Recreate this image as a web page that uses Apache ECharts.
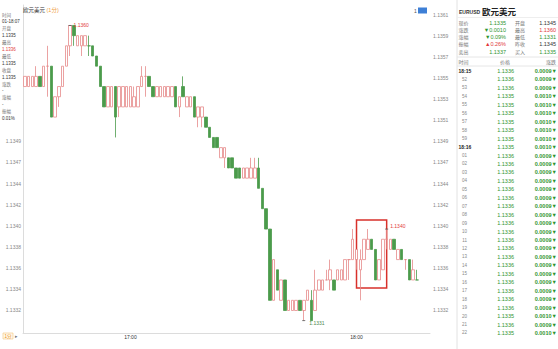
<!DOCTYPE html>
<html><head><meta charset="utf-8">
<script src="https://cdn.jsdelivr.net/npm/echarts@6/dist/echarts.min.js"></script>
<style>html,body{margin:0;padding:0;background:#fff}#c{width:558px;height:349px}</style>
</head><body><div id="c"></div>
<script>
// ---- data ----
const categories = [
'16:32','16:33','16:34','16:35','16:36','16:37','16:38','16:39','16:40','16:41','16:42','16:43','16:44','16:45','16:46','16:47','16:48','16:49','16:50','16:51','16:52','16:53','16:54','16:55','16:56','16:57','16:58','16:59',
'17:00','17:01','17:02','17:03','17:04','17:05','17:06','17:07','17:08','17:09','17:10','17:11','17:12','17:13','17:14','17:15','17:16','17:17','17:18','17:19','17:20','17:21','17:22','17:23','17:24','17:25','17:26','17:27','17:28','17:29',
'17:30','17:31','17:32','17:33','17:34','17:35','17:36','17:37','17:38','17:39','17:40','17:41','17:42','17:43','17:44','17:45','17:46','17:47','17:48','17:49','17:50','17:51','17:52','17:53','17:54','17:55','17:56','17:57','17:58','17:59',
'18:00','18:01','18:02','18:03','18:04','18:05','18:06','18:07','18:08','18:09','18:10','18:11','18:12','18:13','18:14','18:15','18:16','18:17','18:18','18:19'];
const opens = [1.1354,1.1354,1.1354,1.1354,1.1355,1.1354,1.1356,1.1356,1.1351,1.1353,1.1354,1.1356,1.1358,1.1360,1.1358,1.1358,1.1358,1.1358,1.1358,1.1357,1.1356,1.1354,1.1352,1.1352,1.1354,1.1352,1.1352,1.1352,1.1352,1.1352,1.1352,1.1354,1.1355,1.1355,1.1354,1.1353,1.1353,1.1353,1.1353,1.1353,1.1354,1.1352,1.1354,1.1352,1.1352,1.1353,1.1351,1.1351,1.1351,1.1350,1.1349,1.1349,1.1347,1.1347,1.1347,1.1347,1.1346,1.1346,1.1345,1.1345,1.1345,1.1345,1.1346,1.1344,1.1342,1.1340,1.1333,1.1336,1.1333,1.1335,1.1332,1.1332,1.1332,1.1333,1.1332,1.1333,1.1333,1.1332,1.1334,1.1334,1.1335,1.1335,1.1335,1.1335,1.1335,1.1335,1.1337,1.1337,1.1337,1.1336,1.1337,1.1338,1.1339,1.1338,1.1335,1.1336,1.1339,1.1338,1.1339,1.1337,1.1338,1.1337,1.1337,1.1335,1.1335];
const closes = [1.1355,1.1355,1.1355,1.1355,1.1354,1.1356,1.1356,1.1351,1.1353,1.1354,1.1356,1.1358,1.1360,1.1359,1.1359,1.1359,1.1359,1.1358,1.1357,1.1356,1.1354,1.1352,1.1354,1.1354,1.1351,1.1354,1.1354,1.1354,1.1354,1.1353,1.1354,1.1355,1.1355,1.1354,1.1353,1.1354,1.1354,1.1354,1.1354,1.1354,1.1352,1.1353,1.1353,1.1353,1.1353,1.1351,1.1352,1.1352,1.1350,1.1349,1.1348,1.1348,1.1348,1.1348,1.1346,1.1346,1.1345,1.1345,1.1346,1.1346,1.1346,1.1346,1.1344,1.1342,1.1340,1.1333,1.1337,1.1334,1.1335,1.1332,1.1333,1.1333,1.1333,1.1332,1.1333,1.1334,1.1331,1.1334,1.1335,1.1335,1.1335,1.1336,1.1334,1.1336,1.1336,1.1337,1.1337,1.1339,1.1338,1.1337,1.1339,1.1339,1.1338,1.1335,1.1337,1.1339,1.1339,1.1339,1.1338,1.1338,1.1337,1.1337,1.1335,1.1336,1.1335];
const lows = [1.1354,1.1354,1.1354,1.1354,1.1354,1.1354,1.1353,1.1351,1.1351,1.1352,1.1354,1.1356,1.1357,1.1358,1.1358,1.1357,1.1358,1.1357,1.1357,1.1356,1.1354,1.1352,1.1352,1.1352,1.1349,1.1351,1.1352,1.1352,1.1352,1.1352,1.1352,1.1354,1.1353,1.1354,1.1353,1.1353,1.1353,1.1353,1.1353,1.1353,1.1352,1.1351,1.1353,1.1352,1.1352,1.1351,1.1350,1.1350,1.1350,1.1349,1.1348,1.1348,1.1347,1.1346,1.1346,1.1346,1.1345,1.1345,1.1345,1.1345,1.1345,1.1345,1.1344,1.1342,1.1340,1.1333,1.1333,1.1334,1.1333,1.1332,1.1332,1.1332,1.1332,1.1332,1.1331,1.1333,1.1331,1.1332,1.1334,1.1334,1.1335,1.1334,1.1334,1.1335,1.1335,1.1335,1.1335,1.1337,1.1336,1.1333,1.1337,1.1338,1.1338,1.1335,1.1335,1.1336,1.1338,1.1338,1.1338,1.1337,1.1337,1.1336,1.1335,1.1335,1.1335];
const highs = [1.1355,1.1355,1.1355,1.1356,1.1355,1.1356,1.1358,1.1356,1.1353,1.1354,1.1356,1.1358,1.1360,1.1360,1.1359,1.1359,1.1359,1.1359,1.1358,1.1357,1.1356,1.1354,1.1354,1.1354,1.1354,1.1354,1.1354,1.1354,1.1354,1.1354,1.1354,1.1356,1.1356,1.1355,1.1354,1.1354,1.1354,1.1354,1.1354,1.1354,1.1354,1.1353,1.1355,1.1353,1.1353,1.1353,1.1352,1.1352,1.1351,1.1350,1.1349,1.1349,1.1348,1.1348,1.1347,1.1347,1.1346,1.1346,1.1346,1.1346,1.1347,1.1347,1.1347,1.1344,1.1342,1.1340,1.1337,1.1336,1.1335,1.1335,1.1333,1.1333,1.1333,1.1333,1.1333,1.1334,1.1334,1.1336,1.1335,1.1335,1.1336,1.1337,1.1335,1.1336,1.1336,1.1337,1.1337,1.1340,1.1338,1.1338,1.1339,1.1340,1.1339,1.1338,1.1337,1.1339,1.1340,1.1339,1.1339,1.1338,1.1338,1.1337,1.1337,1.1337,1.1336];
const yTickValues = [1.133205,1.133412,1.133619,1.133826,1.134033,1.13424,1.134447,1.134654,1.134861,1.135068,1.135275,1.135482,1.135689,1.135896,1.136103];
const leftTickValues = [1.133205,1.133412,1.133619,1.133826,1.134033,1.13424,1.134447,1.134654,1.134861];
const yMin = 1.132979, yMax = 1.136201;
const currentPrice = 1.1335;
const localHighIndex = 96;
const boxStartIndex = 88, boxEndIndex = 96, boxTop = 1.13409, boxBottom = 1.13342;

const infoLines = ['时间','01-18:07','开盘','1.1335','最高','1.1336','最低','1.1335','收盘','1.1335','涨跌','-','涨幅','-','振幅','0.01%'];
const quoteLabels1 = ['现价','涨跌','涨幅','振幅','卖出'];
const quoteValues1 = ['1.1335','▼0.0010','▼0.09%','▲0.26%','1.1337'];
const quoteLabels2 = ['开盘','最高','最低','昨收','买入'];
const quoteValues2 = ['1.1345','1.1360','1.1331','1.1345','1.1335'];
const tickTimes = ['18:15','52','53','54','55','56','57','58','59','18:16','01','02','03','04','05','06','07','08','09','10','11','12','13','14','15','16','17','18','19','20','21','22'];
const tickPrices = ['1.1336','1.1336','1.1336','1.1335','1.1335','1.1335','1.1335','1.1335','1.1335','1.1335','1.1336','1.1336','1.1336','1.1336','1.1336','1.1336','1.1336','1.1336','1.1336','1.1336','1.1336','1.1336','1.1336','1.1336','1.1336','1.1336','1.1336','1.1336','1.1336','1.1335','1.1336','1.1335'];
const tickChanges = ['0.0009▼','0.0009▼','0.0009▼','0.0010▼','0.0010▼','0.0010▼','0.0010▼','0.0010▼','0.0010▼','0.0010▼','0.0009▼','0.0009▼','0.0009▼','0.0009▼','0.0009▼','0.0009▼','0.0009▼','0.0009▼','0.0009▼','0.0009▼','0.0009▼','0.0009▼','0.0009▼','0.0009▼','0.0009▼','0.0009▼','0.0009▼','0.0009▼','0.0009▼','0.0010▼','0.0009▼','0.0010▼'];

// ---- build ----
const candleData = opens.map((o, i) => [o, closes[i], lows[i], highs[i]]);
const F = "Arial, 'Noto Sans CJK SC', sans-serif";
const GREEN = '#2f952f', RED = '#e23b3b', GRAY = '#777';
const g = [];
function txt(x, y, text, fill, size, align, weight) {
  g.push({type:'text', x:x, y:y, z:100, silent:true,
    style:{text:text, fill:fill, font:(weight||'normal')+' '+size+'px '+F, lineHeight:size, textAlign:align||'left', textVerticalAlign:'middle'}});
}
function line(x1,y1,x2,y2,c){ g.push({type:'line', z:100, silent:true, shape:{x1,y1,x2,y2}, style:{stroke:c, lineWidth:1}}); }
// left info panel
g.push({type:'rect', z:99, silent:true, shape:{x:0,y:0,width:22.5,height:128}, style:{fill:'#fff'}});
infoLines.forEach((t,k)=>{
  const isLabel = k%2===0;
  txt(2, 15+6.9*k, t, isLabel ? GRAY : (k===5 ? RED : '#333'), 4.5);
});
// title
txt(23, 10, '欧元美元', '#333', 5.5);
txt(46.5, 10, '(1分)', '#f0a040', 5.5);
// top right small icon
txt(414, 10.5, '1', '#555', 5);
g.push({type:'rect', z:100, silent:true, shape:{x:418,y:7.5,width:9,height:6}, style:{fill:'#3d7fd6'}});
// bottom-left period selector
g.push({type:'rect', z:100, silent:true, shape:{x:3,y:333,width:10,height:6}, style:{fill:'#fff8ea', stroke:'#f3c27a', lineWidth:0.6}});
txt(4.5, 336, '1分', '#e89020', 4.5);
txt(15, 336, '▸', '#777', 4.5);
// right panel
line(457, 0, 457, 349, '#e2e2e2');
txt(459, 12, 'EURUSD', '#333', 5, 'left', 'bold');
txt(482, 12, '欧元美元', '#222', 8.5, 'left', 'bold');
line(457, 17.5, 558, 17.5, '#eee');
const qy = [22.7, 29.8, 37, 44.3, 51.6];
const c1 = [GREEN, GREEN, GREEN, RED, GREEN];
const c2 = ['#333', RED, GREEN, '#333', GREEN];
quoteLabels1.forEach((t,k)=>{
  txt(458.5, qy[k], t, GRAY, 5);
  txt(506, qy[k], quoteValues1[k], c1[k], 5.5, 'right');
  txt(515, qy[k], quoteLabels2[k], GRAY, 5);
  txt(556, qy[k], quoteValues2[k], c2[k], 5.5, 'right');
});
line(457, 57, 558, 57, '#e6e6e6');
txt(458.5, 61.7, '时间', GRAY, 5);
txt(505, 61.7, '价格', GRAY, 5, 'center');
txt(556, 61.7, '涨跌', GRAY, 5, 'right');
line(457, 66, 558, 66, '#e6e6e6');
tickTimes.forEach((t,k)=>{
  const y = 71 + 8.45*k;
  const isFull = t.indexOf(':')>=0;
  if (isFull) txt(458.5, y, t, '#222', 5, 'left', 'bold');
  else txt(467, y, t, '#888', 4.5, 'right');
  txt(514, y, tickPrices[k], GREEN, 5.5, 'right');
  txt(557, y, tickChanges[k], GREEN, 5.5, 'right', 'bold');
});

const yAxisBase = {
  type:'value', min:yMin, max:yMax, scale:true,
  splitLine:{show:false}, axisTick:{show:false}
};
const labelBase = {formatter:v=>v.toFixed(4), color:'#888', fontSize:5, fontFamily:F};

const chart = echarts.init(document.getElementById('c'), null, {renderer:'svg'});
chart.setOption({
  animation:false,
  backgroundColor:'#fff',
  grid:{left:23, right:128, top:5, bottom:16},
  xAxis:{type:'category', data:categories, boundaryGap:true,
    axisLine:{lineStyle:{color:'#dcdcdc'}}, axisTick:{show:false},
    axisLabel:{interval:(i,v)=>v.slice(3)==='00', color:'#333', fontSize:5, fontFamily:F, margin:1}},
  yAxis:[
    Object.assign({}, yAxisBase, {position:'left', axisLine:{show:true, lineStyle:{color:'#dcdcdc'}},
      axisLabel:Object.assign({}, labelBase, {customValues:leftTickValues, margin:2})}),
    Object.assign({}, yAxisBase, {position:'right', axisLine:{show:false},
      axisLabel:Object.assign({}, labelBase, {customValues:yTickValues, margin:3})})
  ],
  series:[{
    type:'candlestick', data:candleData, barWidth:3,
    itemStyle:{color:'#ffffff', color0:'#4b9b4b', borderColor:'#e68a8a', borderColor0:'#4b9b4b', borderWidth:0.8},
    markPoint:{
      symbol:'rect', symbolSize:[3,0.8], itemStyle:{color:'#555'}, silent:true,
      label:{show:true, position:'right', distance:2, fontSize:5, fontFamily:F, formatter:p=>Number(p.value).toFixed(4)},
      data:[
        {type:'max', valueDim:'highest', label:{color:RED}},
        {type:'min', valueDim:'lowest', label:{color:'#4d874d', offset:[2,2]}},
        {coord:[categories[localHighIndex], highs[localHighIndex]], value:highs[localHighIndex], label:{color:RED, offset:[0,-3]}}
      ]
    },
    markLine:{
      silent:true, symbol:['none','none'],
      lineStyle:{color:'#a9c6df', width:1, type:'solid'},
      label:{position:'end', distance:2, formatter:p=>Number(p.value).toFixed(4), fontSize:5, fontFamily:F,
        color:'#e08a10', backgroundColor:'#fffbea', borderColor:'#f2b34d', borderWidth:0.8, padding:[1,4]},
      data:[{yAxis:currentPrice}]
    },
    markArea:{
      silent:true,
      itemStyle:{color:'rgba(0,0,0,0)', borderColor:'#d8312b', borderWidth:1.5},
      data:[[{xAxis:categories[boxStartIndex], yAxis:boxTop},{xAxis:categories[boxEndIndex], yAxis:boxBottom}]]
    }
  }],
  graphic:g
});
</script></body></html>
